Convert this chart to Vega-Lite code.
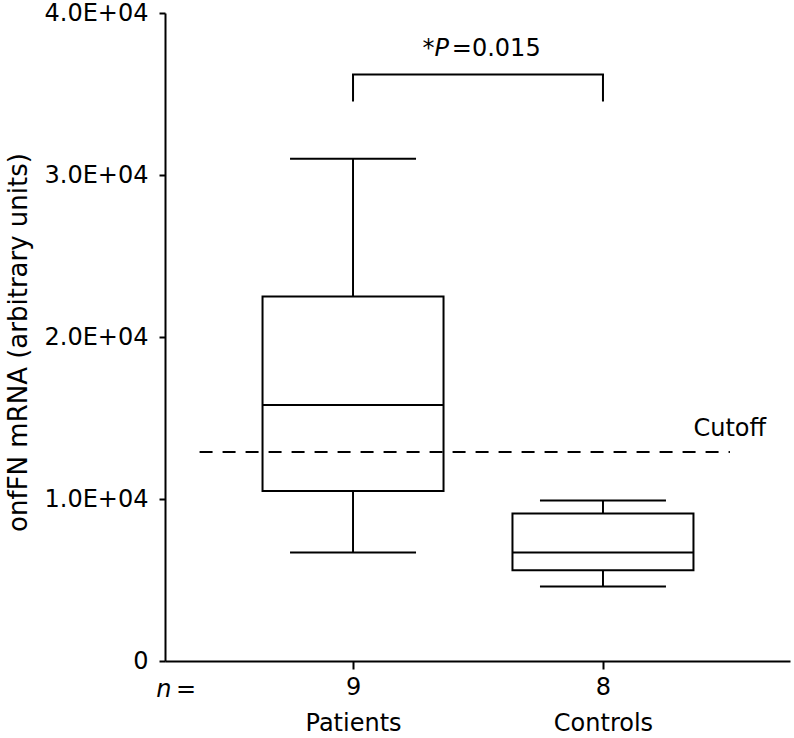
{
  "$schema": "https://vega.github.io/schema/vega-lite/v6.json",
  "width": 625,
  "height": 648,
  "autosize": {"type": "none"},
  "padding": {"left": 165, "top": 13, "right": 4, "bottom": 77},
  "background": "white",
  "config": {
    "view": {"stroke": null},
    "font": "DejaVu Sans",
    "axis": {
      "domainColor": "#000",
      "domainWidth": 2,
      "tickColor": "#000",
      "tickWidth": 2,
      "labelColor": "#000",
      "titleColor": "#000",
      "grid": false,
      "labelFont": "DejaVu Sans",
      "titleFont": "DejaVu Sans",
      "titleFontWeight": "normal"
    },
    "text": {"font": "DejaVu Sans", "fontSize": 24, "color": "#000"}
  },
  "datasets": {
    "boxes": [
      {"group": "Patients", "pos": 1, "n": 9, "lower": 6700, "q1": 10500, "median": 15800, "q3": 22500, "upper": 31000},
      {"group": "Controls", "pos": 2, "n": 8, "lower": 4600, "q1": 5600, "median": 6700, "q3": 9100, "upper": 9900}
    ],
    "cutoff": [{"x_start": 0.386, "x_end": 2.508, "value": 12900}],
    "cutoff_label": [{"x": 2.362, "y": 13870, "label": "Cutoff"}],
    "bracket": [
      {"pt": 1, "x": 1, "y": 34600},
      {"pt": 2, "x": 1, "y": 36200},
      {"pt": 3, "x": 2, "y": 36200},
      {"pt": 4, "x": 2, "y": 34600}
    ],
    "p_plain": [
      {"x": 1.2783, "y": 37330, "label": "*"},
      {"x": 1.3953, "y": 37330, "label": "=0.015"},
      {"x": 0.2913, "y": -2222, "label": "="}
    ],
    "p_italic": [
      {"x": 1.3256, "y": 37330, "label": "P"},
      {"x": 0.2126, "y": -2222, "label": "n"}
    ]
  },
  "layer": [
    {
      "data": {"name": "boxes"},
      "mark": {"type": "rule", "color": "#000", "strokeWidth": 2},
      "encoding": {
        "x": {
          "field": "pos", "type": "quantitative",
          "scale": {"domain": [0.2677, 2.7283], "nice": false, "zero": false},
          "axis": {
            "values": [1, 2],
            "labelExpr": "datum.value == 1 ? ['9', 'Patients'] : ['8', 'Controls']",
            "title": null,
            "tickSize": 8,
            "labelFontSize": 24,
            "labelLineHeight": 36,
            "labelPadding": 6,
            "labelFlush": false
          }
        },
        "y": {
          "field": "lower", "type": "quantitative",
          "scale": {"domain": [0, 40000], "nice": false, "zero": false},
          "axis": {
            "values": [0, 10000, 20000, 30000, 40000],
            "labelExpr": "datum.value == 0 ? '0' : format(datum.value / 10000, '.1f') + 'E+04'",
            "title": "onfFN mRNA (arbitrary units)",
            "titleFontSize": 26,
            "titleX": -147,
            "titleY": 329,
            "titleAngle": -90,
            "titleAlign": "center",
            "titleBaseline": "middle",
            "tickSize": 6,
            "labelPadding": 11,
            "labelFontSize": 24,
            "labelFlush": false
          }
        },
        "y2": {"field": "q1"}
      }
    },
    {
      "data": {"name": "boxes"},
      "mark": {"type": "rule", "color": "#000", "strokeWidth": 2},
      "encoding": {
        "x": {"field": "pos", "type": "quantitative", "scale": {"domain": [0.2677, 2.7283], "nice": false, "zero": false}},
        "y": {"field": "q3", "type": "quantitative", "scale": {"domain": [0, 40000], "nice": false, "zero": false}},
        "y2": {"field": "upper"}
      }
    },
    {
      "data": {"name": "boxes"},
      "mark": {"type": "bar", "size": 181, "fill": "white", "stroke": "#000", "strokeWidth": 2},
      "encoding": {
        "x": {"field": "pos", "type": "quantitative", "scale": {"domain": [0.2677, 2.7283], "nice": false, "zero": false}},
        "y": {"field": "q1", "type": "quantitative", "scale": {"domain": [0, 40000], "nice": false, "zero": false}},
        "y2": {"field": "q3"}
      }
    },
    {
      "data": {"name": "boxes"},
      "mark": {"type": "tick", "orient": "horizontal", "size": 181, "thickness": 2, "color": "#000", "opacity": 1},
      "encoding": {
        "x": {"field": "pos", "type": "quantitative", "scale": {"domain": [0.2677, 2.7283], "nice": false, "zero": false}},
        "y": {"field": "median", "type": "quantitative", "scale": {"domain": [0, 40000], "nice": false, "zero": false}}
      }
    },
    {
      "data": {"name": "boxes"},
      "mark": {"type": "tick", "orient": "horizontal", "size": 126, "thickness": 2, "color": "#000", "opacity": 1},
      "encoding": {
        "x": {"field": "pos", "type": "quantitative", "scale": {"domain": [0.2677, 2.7283], "nice": false, "zero": false}},
        "y": {"field": "lower", "type": "quantitative", "scale": {"domain": [0, 40000], "nice": false, "zero": false}}
      }
    },
    {
      "data": {"name": "boxes"},
      "mark": {"type": "tick", "orient": "horizontal", "size": 126, "thickness": 2, "color": "#000", "opacity": 1},
      "encoding": {
        "x": {"field": "pos", "type": "quantitative", "scale": {"domain": [0.2677, 2.7283], "nice": false, "zero": false}},
        "y": {"field": "upper", "type": "quantitative", "scale": {"domain": [0, 40000], "nice": false, "zero": false}}
      }
    },
    {
      "data": {"name": "cutoff"},
      "mark": {"type": "rule", "color": "#000", "strokeWidth": 2, "strokeDash": [13, 10]},
      "encoding": {
        "x": {"field": "x_start", "type": "quantitative", "scale": {"domain": [0.2677, 2.7283], "nice": false, "zero": false}},
        "x2": {"field": "x_end"},
        "y": {"field": "value", "type": "quantitative", "scale": {"domain": [0, 40000], "nice": false, "zero": false}}
      }
    },
    {
      "data": {"name": "cutoff_label"},
      "mark": {"type": "text", "align": "left", "baseline": "alphabetic", "fontSize": 24},
      "encoding": {
        "x": {"field": "x", "type": "quantitative", "scale": {"domain": [0.2677, 2.7283], "nice": false, "zero": false}},
        "y": {"field": "y", "type": "quantitative", "scale": {"domain": [0, 40000], "nice": false, "zero": false}},
        "text": {"field": "label"}
      }
    },
    {
      "data": {"name": "bracket"},
      "mark": {"type": "line", "color": "#000", "strokeWidth": 2, "strokeCap": "square"},
      "encoding": {
        "x": {"field": "x", "type": "quantitative", "scale": {"domain": [0.2677, 2.7283], "nice": false, "zero": false}},
        "y": {"field": "y", "type": "quantitative", "scale": {"domain": [0, 40000], "nice": false, "zero": false}},
        "order": {"field": "pt", "type": "quantitative"}
      }
    },
    {
      "data": {"name": "p_plain"},
      "mark": {"type": "text", "align": "left", "baseline": "alphabetic", "fontSize": 24},
      "encoding": {
        "x": {"field": "x", "type": "quantitative", "scale": {"domain": [0.2677, 2.7283], "nice": false, "zero": false}},
        "y": {"field": "y", "type": "quantitative", "scale": {"domain": [0, 40000], "nice": false, "zero": false}},
        "text": {"field": "label"}
      }
    },
    {
      "data": {"name": "p_italic"},
      "mark": {"type": "text", "align": "left", "baseline": "alphabetic", "fontSize": 24, "fontStyle": "italic"},
      "encoding": {
        "x": {"field": "x", "type": "quantitative", "scale": {"domain": [0.2677, 2.7283], "nice": false, "zero": false}},
        "y": {"field": "y", "type": "quantitative", "scale": {"domain": [0, 40000], "nice": false, "zero": false}},
        "text": {"field": "label"}
      }
    }
  ]
}
